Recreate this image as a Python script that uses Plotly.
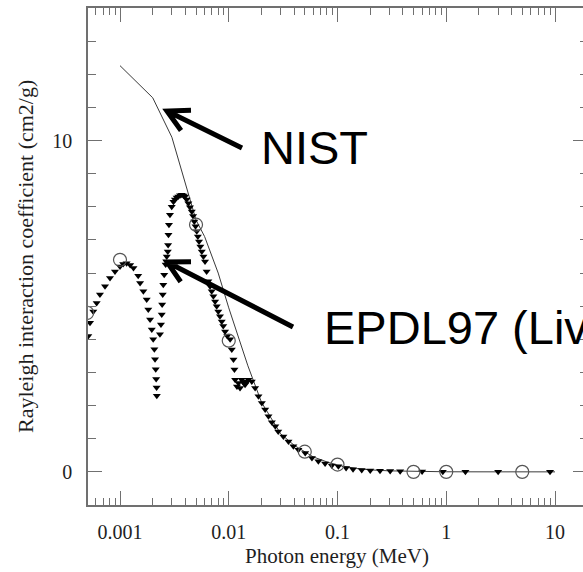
import math
import plotly.graph_objects as go

# ---------------- data ----------------
epdl_energy = [0.000511, 0.00053, 0.000568, 0.00061, 0.000654, 0.000728, 0.000809, 0.000899,
               0.001, 0.00107, 0.00115, 0.00124, 0.00133, 0.00147, 0.00153, 0.00164, 0.00176,
               0.00182, 0.00189, 0.00196, 0.00202, 0.00207, 0.0021, 0.00213, 0.00215, 0.00217,
               0.00218,
               0.00233, 0.00238, 0.00242, 0.00244, 0.00247, 0.0025, 0.00255, 0.00263, 0.00269,
               0.00275, 0.00277, 0.00279, 0.00282, 0.00288, 0.00299, 0.0031, 0.0032, 0.00332,
               0.00344, 0.00357, 0.0037, 0.00383, 0.00396, 0.0041, 0.00425, 0.0044, 0.00457,
               0.0047, 0.00482, 0.00495, 0.00508, 0.0052, 0.00533, 0.00548, 0.00565, 0.00585,
               0.00605, 0.00626, 0.00649, 0.00673, 0.00697, 0.00722, 0.00749, 0.00775, 0.00801,
               0.0083, 0.00862, 0.0089, 0.00925, 0.0097, 0.0103, 0.01066, 0.01105, 0.01128,
               0.01145, 0.0119, 0.01228, 0.0127, 0.01316, 0.01365, 0.01413, 0.01465, 0.01516,
               0.01628, 0.01748, 0.01876, 0.02014, 0.02162, 0.0232, 0.0249, 0.0268, 0.0285,
               0.0318, 0.0354, 0.0393, 0.0437, 0.0505, 0.0582, 0.0667, 0.0769, 0.0886, 0.1019,
               0.12, 0.139, 0.167, 0.2, 0.246, 0.305, 0.377, 0.6, 0.93, 1.5, 3.0, 9.0]
epdl_value = [4.1, 4.5, 4.84, 5.1, 5.35, 5.6, 5.85, 6.05,
              6.2, 6.27, 6.3, 6.24, 6.15, 5.92, 5.7, 5.45, 5.2,
              4.9, 4.6, 4.3, 4.0, 3.7, 3.4, 3.1, 2.8, 2.55,
              2.3,
              4.15, 4.45, 4.75, 5.05, 5.35, 5.65, 5.95, 6.26, 6.5,
              6.65, 6.85, 7.16, 7.46, 7.76, 8.0, 8.15, 8.22, 8.28,
              8.31, 8.35, 8.36, 8.34, 8.31, 8.22, 8.11, 7.99, 7.86,
              7.72, 7.56, 7.41, 7.26, 7.1, 6.95, 6.8, 6.65, 6.5,
              6.35, 6.05, 5.75, 5.6, 5.45, 5.3, 5.14, 5.0, 4.84,
              4.7, 4.54, 4.4, 4.24, 4.1, 4.0, 3.69, 3.39, 3.09,
              2.78, 2.58, 2.68, 2.53, 2.78, 2.7, 2.63, 2.72, 2.78,
              2.73, 2.53, 2.28, 2.08, 1.88, 1.68, 1.5, 1.38, 1.22,
              1.07, 0.92, 0.77, 0.67, 0.57, 0.42, 0.32, 0.25, 0.19, 0.17,
              0.12, 0.08, 0.06, 0.045, 0.035, 0.025, 0.018, 0.01, 0.005, 0.003, 0.001, 0.0005]

nist_energy = [0.001, 0.002, 0.003, 0.004, 0.005, 0.006, 0.008, 0.01, 0.015, 0.02, 0.03,
               0.04, 0.05, 0.06, 0.08, 0.1, 0.15, 0.2, 0.3, 0.4, 0.5, 0.6, 0.8, 1.0, 1.5,
               2.0, 3.0, 4.0, 5.0, 6.0, 8.0, 10.0]
nist_value = [12.26, 11.29, 10.1, 8.65, 7.6, 7.1, 6.0, 4.95, 3.2, 2.1, 1.15,
              0.8, 0.6, 0.45, 0.3, 0.2, 0.1, 0.06, 0.03, 0.02, 0.012, 0.008, 0.005, 0.003, 0.0015,
              0.001, 0.0005, 0.0003, 0.0002, 0.0001, 0.0001, 0.00005]

circle_energy = [0.0005, 0.001, 0.005, 0.01, 0.05, 0.1, 0.5, 1.0, 5.0]
circle_value = [4.8, 6.4, 7.46, 3.96, 0.61, 0.22, 0.0, 0.0, 0.0]

x_tick_vals = [0.001, 0.01, 0.1, 1, 10]
x_tick_text = ["0.001", "0.01", "0.1", "1", "10"]
x_minor_vals = [m * d for d in [0.0001, 0.001, 0.01, 0.1, 1, 10] for m in range(2, 10)]

x_title = "Photon energy (MeV)"
y_title = "Rayleigh interaction coefficient (cm2/g)"

# ---------------- layout geometry ----------------
W, H = 583, 572
PL, PR, PT, PB = 88, 583, 8, 505


def px(x):
    return (x - PL) / (PR - PL)


def py(y):
    return (PB - y) / (PB - PT)


AX = "#707070"
TXT = "#1e1e1e"
SERIF = "Liberation Serif, Times New Roman, serif"
SANS = "Liberation Sans, Arial, sans-serif"

fig = go.Figure()

fig.add_trace(go.Scatter(x=nist_energy, y=nist_value, mode="lines",
                         line=dict(color="#3a3a3a", width=1), name="NIST",
                         showlegend=False))
fig.add_trace(go.Scatter(x=epdl_energy, y=epdl_value, mode="markers",
                         marker=dict(symbol="triangle-down", size=7, color="black"),
                         name="EPDL97", showlegend=False))
fig.add_trace(go.Scatter(x=circle_energy, y=circle_value, mode="markers", yaxis="y2",
                         marker=dict(symbol="circle-open", size=13, color="#555555",
                                     line=dict(color="#555555", width=1.2)),
                         showlegend=False))

fig.update_layout(
    width=W, height=H,
    margin=dict(l=PL, r=W - PR, t=PT, b=H - PB, pad=0, autoexpand=False),
    paper_bgcolor="white", plot_bgcolor="white",
    showlegend=False,
    xaxis=dict(
        type="log", range=[-3.2943, 1.2575], automargin=False,
        tickmode="array", tickvals=x_tick_vals, ticktext=x_tick_text,
        ticks="inside", ticklen=14, tickwidth=1.4, tickcolor=AX,
        minor=dict(tickmode="array", tickvals=x_minor_vals, ticks="inside", ticklen=7,
                   tickwidth=1.2, tickcolor=AX, showgrid=False),
        showline=True, linecolor=AX, linewidth=1.5, mirror="ticks",
        showgrid=False, zeroline=False,
        tickfont=dict(family=SERIF, size=20, color=TXT),
        ticklabelstandoff=8,
    ),
    yaxis=dict(
        range=[-1, 14], tick0=0, dtick=10, automargin=False,
        ticks="inside", ticklen=14, tickwidth=1.4, tickcolor=AX,
        minor=dict(dtick=1, ticks="inside", ticklen=8, tickwidth=1.2, tickcolor=AX,
                   showgrid=False),
        showline=True, linecolor=AX, linewidth=1.5, mirror=False,
        showgrid=False, zeroline=False,
        tickfont=dict(family=SERIF, size=20, color=TXT),
        ticklabelstandoff=10,
    ),
    yaxis2=dict(
        range=[-1, 14], tick0=0, dtick=10, overlaying="y", side="right", anchor="x",
        automargin=False,
        ticks="inside", ticklen=10, tickwidth=1.4, tickcolor=AX,
        minor=dict(dtick=1, ticks="inside", ticklen=3, tickwidth=1.2, tickcolor=AX,
                   showgrid=False),
        showline=False, showgrid=False, zeroline=False, showticklabels=False,
    ),
)

# ---------------- axis titles ----------------
fig.add_annotation(text=x_title, xref="paper", yref="paper", x=px(337), y=py(556),
                   xanchor="center", yanchor="middle", showarrow=False,
                   font=dict(family=SERIF, size=21, color=TXT))
fig.add_annotation(text=y_title, xref="paper", yref="paper", x=px(25), y=py(257),
                   xanchor="center", yanchor="middle", showarrow=False, textangle=-90,
                   font=dict(family=SERIF, size=22, color=TXT))

# ---------------- labels ----------------
fig.add_annotation(text="NIST", xref="paper", yref="paper", x=px(259), y=py(148),
                   xanchor="left", yanchor="middle", showarrow=False,
                   font=dict(family=SANS, size=47, color="black"))
fig.add_annotation(text="EPDL97 (Livermore)", xref="paper", yref="paper", x=px(322), y=py(327),
                   xanchor="left", yanchor="middle", showarrow=False,
                   font=dict(family=SANS, size=47, color="black"))


# ---------------- arrows (V heads) ----------------
def arrow_path(tip, tail, arm=24, ang=28):
    dx, dy = tail[0] - tip[0], tail[1] - tip[1]
    L = math.hypot(dx, dy)
    ux, uy = dx / L, dy / L
    pts = []
    for s in (-1, 1):
        a = math.radians(ang * s)
        rx = ux * math.cos(a) - uy * math.sin(a)
        ry = ux * math.sin(a) + uy * math.cos(a)
        pts.append((tip[0] + arm * rx, tip[1] + arm * ry))
    p = lambda q: f"{px(q[0]):.5f},{py(q[1]):.5f}"
    return f"M {p(tail)} L {p(tip)} M {p(pts[0])} L {p(tip)} L {p(pts[1])}"


for tip, tail in [((167, 111), (242, 148)), ((167, 262), (293, 327))]:
    fig.add_shape(type="path", xref="paper", yref="paper", path=arrow_path(tip, tail),
                  line=dict(color="black", width=5))

fig.write_html("out.html", config={"displayModeBar": False},
               post_script="document.body.style.margin='0px';document.body.style.overflow='hidden';")
